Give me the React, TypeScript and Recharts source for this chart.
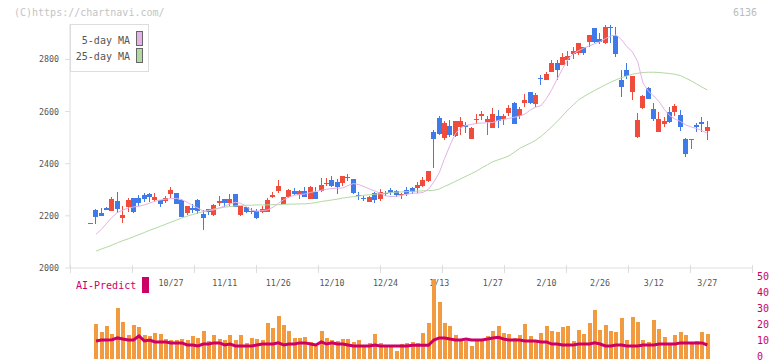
import { ComposedChart, Bar, Line, XAxis, YAxis } from "recharts";

// daily candles, index 0..115
const opens = [
  2171, 2223, 2211, 2230, 2220, 2257, 2193, 2233, 2267, 2267,
  2280, 2285, 2260, 2261, 2257, 2284, 2288, 2261, 2211, 2229,
  2261, 2207, 2226, 2203, 2251, 2263, 2248, 2284, 2202, 2233,
  2215, 2217, 2213, 2216, 2271, 2295, 2247, 2271, 2294, 2281,
  2294, 2266, 2290, 2295, 2323, 2338, 2330, 2326, 2351, 2340,
  2279, 2269, 2253, 2287, 2264, 2289, 2299, 2297, 2283, 2298,
  2307, 2307, 2315, 2334, 2523, 2577, 2500, 2545, 2507, 2542,
  2549, 2496, 2569, 2583, 2559, 2538, 2582, 2570, 2596, 2634,
  2585, 2632, 2675, 2630, 2728, 2721, 2750, 2787, 2779, 2796,
  2820, 2824, 2847, 2868, 2920, 2877, 2862, 2924, 2890, 2721,
  2760, 2677, 2503, 2615, 2689, 2611, 2523, 2554, 2599, 2600,
  2587, 2495, 2492, 2549, 2560, 2527,
];
const highs = [
  2173, 2226, 2231, 2235, 2272, 2290, 2238, 2270, 2270, 2279,
  2289, 2289, 2289, 2262, 2275, 2311, 2289, 2263, 2239, 2246,
  2263, 2223, 2227, 2244, 2276, 2264, 2284, 2284, 2239, 2235,
  2229, 2225, 2239, 2270, 2293, 2338, 2274, 2302, 2306, 2299,
  2312, 2315, 2310, 2347, 2347, 2353, 2343, 2353, 2361, 2343,
  2292, 2276, 2276, 2292, 2302, 2297, 2307, 2299, 2286, 2310,
  2310, 2331, 2348, 2372, 2530, 2585, 2565, 2568, 2563, 2581,
  2560, 2539, 2591, 2603, 2583, 2615, 2606, 2590, 2625, 2637,
  2619, 2668, 2675, 2671, 2741, 2753, 2798, 2798, 2824, 2834,
  2849, 2863, 2847, 2894, 2920, 2900, 2934, 2932, 2923, 2760,
  2787, 2737, 2595, 2664, 2693, 2633, 2597, 2581, 2619, 2628,
  2606, 2499, 2496, 2558, 2581, 2564,
];
const lows = [
  2171, 2170, 2200, 2222, 2219, 2210, 2174, 2216, 2212, 2239,
  2252, 2252, 2257, 2235, 2249, 2270, 2244, 2196, 2203, 2211,
  2206, 2146, 2203, 2198, 2239, 2235, 2233, 2233, 2198, 2211,
  2207, 2189, 2210, 2215, 2267, 2289, 2246, 2269, 2280, 2263,
  2272, 2265, 2265, 2292, 2315, 2310, 2285, 2316, 2333, 2285,
  2261, 2257, 2252, 2249, 2257, 2275, 2280, 2272, 2266, 2275,
  2284, 2288, 2310, 2328, 2383, 2509, 2491, 2504, 2503, 2510,
  2517, 2494, 2551, 2568, 2510, 2538, 2538, 2549, 2585, 2554,
  2570, 2619, 2628, 2618, 2703, 2721, 2750, 2723, 2779, 2773,
  2801, 2819, 2816, 2849, 2862, 2860, 2858, 2865, 2808, 2657,
  2725, 2645, 2499, 2609, 2649, 2562, 2523, 2542, 2555, 2583,
  2526, 2427, 2458, 2523, 2523, 2492,
];
const closes = [
  2173, 2197, 2201, 2224, 2263, 2226, 2203, 2261, 2215, 2251,
  2265, 2271, 2272, 2247, 2269, 2299, 2247, 2197, 2237, 2223,
  2220, 2193, 2215, 2242, 2258, 2251, 2263, 2234, 2238, 2215,
  2217, 2193, 2226, 2261, 2279, 2315, 2271, 2299, 2285, 2294,
  2272, 2310, 2266, 2317, 2325, 2313, 2310, 2353, 2349, 2289,
  2277, 2267, 2274, 2261, 2292, 2287, 2289, 2280, 2285, 2285,
  2290, 2317, 2338, 2372, 2495, 2513, 2558, 2509, 2563, 2563,
  2539, 2537, 2571, 2592, 2570, 2591, 2562, 2583, 2615, 2554,
  2611, 2645, 2632, 2664, 2726, 2744, 2785, 2760, 2808, 2813,
  2833, 2863, 2826, 2894, 2868, 2868, 2923, 2922, 2820, 2696,
  2738, 2737, 2568, 2660, 2650, 2573, 2572, 2564, 2560, 2622,
  2542, 2439, 2494, 2539, 2553, 2541,
];
const ma5 = [
  null, 2130, 2148, 2172, 2195, 2213, 2222, 2230, 2234, 2237,
  2242, 2249, 2256, 2261, 2264, 2266, 2267, 2262, 2252, 2240,
  2230, 2218, 2220, 2223, 2230, 2238, 2246, 2252, 2248, 2236,
  2222, 2218, 2220, 2223, 2233, 2248, 2262, 2272, 2279, 2282,
  2284, 2290, 2294, 2298, 2302, 2305, 2306, 2307, 2316, 2324,
  2320, 2312, 2303, 2295, 2287, 2277, 2274, 2275, 2279, 2283,
  2287, 2287, 2290, 2302, 2330, 2365, 2420, 2470, 2515, 2538,
  2547, 2551, 2555, 2556, 2557, 2558, 2566, 2570, 2574, 2578,
  2583, 2591, 2606, 2617, 2623, 2650, 2685, 2725, 2764, 2800,
  2822, 2834, 2844, 2852, 2860, 2868, 2880, 2890, 2894, 2876,
  2849, 2830, 2792, 2710, 2678, 2660, 2638, 2608, 2584, 2571,
  2562, 2549, 2541, 2535, 2527, 2517,
];
const ma25 = [
  null, 2065, 2073, 2080, 2088, 2097, 2105, 2112, 2120, 2128,
  2136, 2145, 2152, 2160, 2168, 2176, 2184, 2192, 2199, 2205,
  2211, 2216, 2221, 2226, 2230, 2233, 2236, 2238, 2240, 2241,
  2241, 2242, 2242, 2242, 2243, 2243, 2244, 2245, 2245, 2246,
  2246, 2248, 2251, 2255, 2258, 2261, 2264, 2268, 2271, 2274,
  2276, 2279, 2281, 2283, 2285, 2287, 2289, 2291, 2292, 2293,
  2294, 2295, 2296, 2297, 2298, 2303, 2313, 2322, 2332, 2342,
  2352, 2362, 2372, 2385, 2396, 2408, 2415, 2422, 2430, 2444,
  2459, 2469, 2479, 2490, 2505, 2523, 2542, 2562, 2584, 2606,
  2626, 2645, 2658, 2670, 2681, 2692, 2703, 2713, 2722, 2730,
  2737, 2743, 2747, 2750, 2751, 2751, 2750, 2748, 2746, 2743,
  2738, 2728, 2718, 2706, 2694, 2683,
];
const volume = [
  null, 21.9, 16.8, 20.5, 15.5, 31.7, 23, 14.9, 21.1, 19.9,
  14.9, 14.3, 16.2, 15.5, 12.4, 11.8, 11.8, 12.4, 11.8, 14.3,
  13.1, 17.4, 11.2, 14.9, 12.4, 11.8, 14.9, 11.8, 14.9, 10,
  13.1, 12.4, 11.8, 22.6, 19.3, 26.7, 21.1, 17.4, 13.1, 13.1,
  13.7, 10.8, 8.1, 17.4, 13.1, 11.8, 11.2, 12.4, 12.4, 10.8,
  11.8, 8.1, 10, 15.5, 10, 8.1, 7.5, 5, 9.3, 10,
  10.6, 10, 16.2, 22.4, 50, 35.4, 22.6, 20.5, 14.9, 11.8,
  11.2, 8.1, 11.2, 11.8, 14.3, 17.4, 20.5, 16.2, 15.5, 13.1,
  14.9, 21.7, 14.3, 11.2, 16.2, 20.5, 17.4, 16.8, 19.9, 20.5,
  11.2, 18, 15.5, 22.4, 30.4, 18, 21.1, 17.4, 16.8, 25.5,
  11.8, 26.1, 23, 11.8, 10.6, 24.2, 18.6, 13.7, 10, 14.9,
  16.8, 14.9, 10, 11.2, 16.8, 15.5,
];
const aiPredict = [
  null, 11.2, 11.8, 11.8, 12, 13.1, 12.4, 11.8, 11.8, 14.3,
  11.2, 11.8, 10.6, 10.6, 10.6, 10, 10, 10, 8.7, 8.7,
  8.1, 9.3, 9.3, 10, 10, 8.7, 9.3, 8.1, 8.1, 8.1,
  8.1, 8.7, 9.3, 9.3, 9.3, 10, 8.7, 9.3, 9.3, 10,
  10, 9.3, 8.7, 10.6, 9.3, 10, 9.3, 9.3, 8.7, 8.1,
  8.1, 8.1, 8.1, 8.7, 8.1, 8.1, 8.1, 8.1, 8.1, 8.1,
  8.5, 8.5, 8.5, 8.5, 11.8, 13.1, 13.1, 12.4, 11.8, 11.8,
  12.4, 11.8, 11.8, 11.8, 12.4, 13.1, 13.5, 12.4, 11.8, 11.8,
  11.8, 11.2, 11.2, 11.2, 10.6, 10.6, 9.3, 9.3, 8.7, 8.7,
  8.7, 9.3, 9.3, 9.3, 10, 9.3, 8.1, 8.1, 8.7, 8.7,
  8.1, 8.1, 8.1, 8.7, 8.7, 8.7, 9.3, 9.3, 9.3, 9.3,
  10, 10, 10, 10, 10, 8.7,
];

const dateTickIdx = [15, 25, 35, 45, 55, 65, 75, 85, 95, 105, 115];
const dateTickLabels = ["10/27", "11/11", "11/26", "12/10", "12/24", "1/13", "1/27", "2/10", "2/26", "3/12", "3/27"];
const priceTicks = [2000, 2200, 2400, 2600, 2800];
const volTicks = [0, 10, 20, 30, 40, 50];
const gridTicks = [0, 1, 2, 3, 4, 5, 6, 7, 8, 9, 10, 11];

const UP = "#f04c3c";
const DOWN = "#3f7be8";
const MA5_COLOR = "#e6b2e6";
const MA25_COLOR = "#b2d9a2";
const VOL_COLOR = "#f29a40";
const AI_COLOR = "#cc0066";
const AXIS = "#dddddd";
const MONO = "'DejaVu Sans Mono', monospace";

const rows = opens.map((o, i) => ({
  i,
  o,
  h: highs[i],
  l: lows[i],
  c: closes[i],
  range: [lows[i], highs[i]],
  ma5: ma5[i],
  ma25: ma25[i],
  v: volume[i],
  ai: aiPredict[i],
}));
const gridRows = gridTicks.map((g) => ({ g }));

function Candle(props: any) {
  const { x, y, width, height, payload } = props;
  if (x == null || y == null) return null;
  const top = Math.min(y, y + height);
  const bot = Math.max(y, y + height);
  const span = payload.h - payload.l;
  const k = span > 0 ? (bot - top) / span : 0;
  const py = (v: number) => top + (payload.h - v) * k;
  const color = payload.c >= payload.o ? UP : DOWN;
  const cx = Math.round(x + width / 2 - 0.5);
  const bt = Math.round(py(Math.max(payload.o, payload.c)));
  const bb = Math.round(py(Math.min(payload.o, payload.c)));
  return (
    <g shapeRendering="crispEdges">
      <rect x={cx} y={Math.round(top)} width={1} height={Math.max(1, Math.round(bot) - Math.round(top))} fill={color} />
      <rect x={cx - 2} y={bt} width={5} height={Math.max(1, bb - bt)} fill={color} />
    </g>
  );
}

function VolBar(props: any) {
  const { x, y, width, height } = props;
  if (x == null || !height) return null;
  const cx = Math.round(x + width / 2);
  return <rect x={cx - 2} y={Math.round(y)} width={4} height={Math.round(y + height) - Math.round(y)} fill={VOL_COLOR} shapeRendering="crispEdges" />;
}

// short marks across the price axis line, every 62px
function GridTick(props: any) {
  const { x, y } = props;
  const px = Math.round(x) + 0.5;
  return <line x1={px} x2={px} y1={y - 3} y2={y + 5} stroke={AXIS} />;
}

function VolTick(props: any) {
  const { x, y, payload } = props;
  return (
    <text x={x} y={y - 2.5} dy="0.355em" fill={AI_COLOR} fontSize={10} fontFamily={MONO}>
      {payload.value}
    </text>
  );
}

export default function App() {
  return (
    <div style={{ position: "relative", width: 772, height: 361, background: "#fff" }}>
      <style>{"body{margin:0}"}</style>

      {/* evenly spaced axis marks */}
      <div style={{ position: "absolute", left: 0, top: 0 }}>
        <ComposedChart width={772} height={290} data={gridRows} margin={{ top: 0, right: 20, bottom: 21, left: 70 }}>
          <XAxis
            dataKey="g"
            type="number"
            domain={[0, 11]}
            ticks={gridTicks}
            interval={0}
            tick={GridTick}
            tickSize={0}
            tickMargin={0}
            tickLine={false}
            axisLine={false}
            height={1}
            allowDataOverflow
          />
          <YAxis hide domain={[0, 11]} />
          <Line dataKey="g" stroke="none" dot={false} isAnimationActive={false} />
        </ComposedChart>
      </div>

      <div style={{ position: "absolute", left: 0, top: 0 }}>
        <ComposedChart width={772} height={300} data={rows} margin={{ top: 24, right: 20, bottom: 8, left: 0 }}>
          <XAxis
            dataKey="i"
            padding={{ left: 18, right: 42 }}
            ticks={dateTickIdx}
            interval={0}
            tickFormatter={(v: number) => dateTickLabels[dateTickIdx.indexOf(v)] ?? ""}
            tickLine={false}
            tickSize={6}
            tickMargin={6}
            axisLine={{ stroke: AXIS }}
            tick={{ fill: "#555", fontSize: 8.3, fontFamily: MONO }}
            height={24}
          />
          <YAxis
            domain={[2000, 2936]}
            ticks={priceTicks}
            interval={0}
            width={70}
            tickSize={5}
            tickMargin={6}
            tickLine={{ stroke: AXIS }}
            axisLine={{ stroke: AXIS }}
            tick={{ fill: "#555", fontSize: 8.3, fontFamily: MONO }}
            allowDataOverflow
          />
          <Line dataKey="ma25" stroke={MA25_COLOR} strokeWidth={1} dot={false} isAnimationActive={false} />
          <Line dataKey="ma5" stroke={MA5_COLOR} strokeWidth={1} dot={false} isAnimationActive={false} />
          <Bar dataKey="range" barSize={5} shape={Candle} isAnimationActive={false} />
        </ComposedChart>
      </div>

      <div style={{ position: "absolute", left: 0, top: 270 }}>
        <ComposedChart width={772} height={91} data={rows} margin={{ top: 8.5, right: 0, bottom: 2, left: 70 }}>
          <XAxis dataKey="i" hide padding={{ left: 18, right: 42 }} />
          <YAxis
            orientation="right"
            domain={[0, 50]}
            ticks={volTicks}
            interval={0}
            width={20}
            tickLine={false}
            tickSize={0}
            tickMargin={5}
            axisLine={false}
            tick={VolTick}
            allowDataOverflow
          />
          <Bar dataKey="v" barSize={4} fill={VOL_COLOR} shape={VolBar} isAnimationActive={false} />
          <Line dataKey="ai" stroke={AI_COLOR} strokeWidth={3} dot={false} isAnimationActive={false} />
        </ComposedChart>
      </div>

      <svg width={772} height={361} style={{ position: "absolute", left: 0, top: 0, pointerEvents: "none" }}>
        <g fontFamily={MONO} fontSize={10}>
          <text x={14} y={16} fill="#c4c4c4">(C)https://chartnavi.com/</text>
          <text x={757} y={16} fill="#bbbbbb" textAnchor="end">6136</text>

          <rect x={70.5} y={24.5} width={78} height={47} fill="#fff" stroke={AXIS} />
          <text x={130} y={44} fill="#555" textAnchor="end">5-day MA</text>
          <rect x={136.5} y={31.5} width={6} height={14} fill={MA5_COLOR} stroke="#666" />
          <text x={130} y={60} fill="#555" textAnchor="end">25-day MA</text>
          <rect x={136.5} y={48.5} width={6} height={14} fill={MA25_COLOR} stroke="#666" />

          <text x={76} y={289} fill={AI_COLOR}>AI-Predict</text>
          <rect x={142} y={277} width={7} height={16} fill={AI_COLOR} />
        </g>
      </svg>
    </div>
  );
}
